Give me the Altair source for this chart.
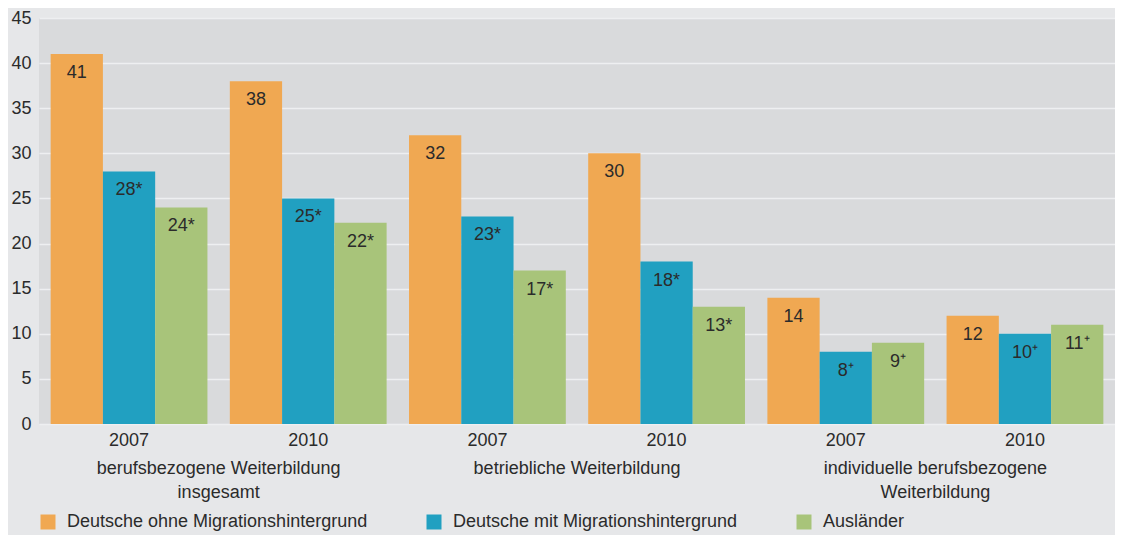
import altair as alt
import pandas as pd

# --- data -------------------------------------------------------------
gruppen = [
    "berufsbezogene Weiterbildung insgesamt",
    "betriebliche Weiterbildung",
    "individuelle berufsbezogene Weiterbildung",
]
gruppen_zeilen = [
    "berufsbezogene Weiterbildung\ninsgesamt",
    "betriebliche Weiterbildung",
    "individuelle berufsbezogene\nWeiterbildung",
]
jahre = ["2007", "2010"]
serien = [
    "Deutsche ohne Migrationshintergrund",
    "Deutsche mit Migrationshintergrund",
    "Ausländer",
]
farben = ["#f0a852", "#21a0c1", "#a8c47a"]

# values per series, in order: (Gruppe1 2007, 2010, Gruppe2 2007, 2010, Gruppe3 2007, 2010)
ohne = [41, 38, 32, 30, 14, 12]
mit = [28, 25, 23, 18, 8, 10]
auslaender = [24, 22.3, 17, 13, 9, 11]

ohne_lab = ["41", "38", "32", "30", "14", "12"]
mit_lab = ["28*", "25*", "23*", "18*", "8⁺", "10⁺"]
ausl_lab = ["24*", "22*", "17*", "13*", "9⁺", "11⁺"]

y_ticks = [0, 5, 10, 15, 20, 25, 30, 35, 40, 45]

# --- build table ------------------------------------------------------
subgruppen = [f"{g}|{j}" for g in gruppen for j in jahre]
rows = []
for s, werte, labs in zip(serien, [ohne, mit, auslaender], [ohne_lab, mit_lab, ausl_lab]):
    for sg, w, l in zip(subgruppen, werte, labs):
        rows.append({"pos": sg, "serie": s, "wert": w, "label": l})
df = pd.DataFrame(rows)

gdf = pd.DataFrame({"pos": [f"{g}|2007" for g in gruppen], "text": gruppen_zeilen})

FONT = "Liberation Sans"
TXT = "#2b2b2b"

W, H = 1076, 406
x_scale = alt.Scale(domain=subgruppen, paddingInner=0.125, paddingOuter=0.065)
step = W / (len(subgruppen) - 0.125 + 2 * 0.065)

x_enc = alt.X(
    "pos:N",
    scale=x_scale,
    sort=subgruppen,
    axis=alt.Axis(
        title=None,
        labelAngle=0,
        ticks=False,
        domain=False,
        labelPadding=7,
        labelFontSize=18,
        labelColor=TXT,
        labelFont=FONT,
        labelExpr="split(datum.label, '|')[1]",
    ),
)
y_scale = alt.Scale(domain=[0, 45], nice=False)

bars = alt.Chart(df).mark_bar().encode(
    x=x_enc,
    xOffset=alt.XOffset("serie:N", sort=serien,
                        scale=alt.Scale(domain=serien, paddingInner=0, paddingOuter=0)),
    y=alt.Y(
        "wert:Q",
        scale=y_scale,
        axis=alt.Axis(
            title=None,
            values=y_ticks,
            ticks=False,
            domain=False,
            labelPadding=8,
            labelFontSize=18,
            labelColor=TXT,
            labelFont=FONT,
            grid=True,
            gridColor="#eeeff1",
            gridWidth=1.5,
        ),
    ),
    color=alt.Color(
        "serie:N",
        sort=serien,
        scale=alt.Scale(domain=serien, range=farben),
        legend=alt.Legend(
            title=None,
            orient="none",
            legendX=0,
            legendY=495,
            direction="horizontal",
            columns=3,
            columnPadding=57,
            symbolType="square",
            symbolSize=225,
            symbolStrokeWidth=0,
            symbolOpacity=1,
            labelFontSize=18,
            labelFont=FONT,
            labelColor=TXT,
            labelOffset=10,
            labelLimit=0,
        ),
    ),
)

labels = alt.Chart(df).mark_text(
    dy=19, baseline="middle", align="center", fontSize=18, font=FONT, color=TXT
).encode(
    x=alt.X("pos:N", scale=x_scale, sort=subgruppen),
    xOffset=alt.XOffset("serie:N", sort=serien),
    y=alt.Y("wert:Q", scale=y_scale),
    text="label:N",
)

gruppen_text = alt.Chart(gdf).mark_text(
    dx=step / 2, baseline="top", align="center", fontSize=18, font=FONT,
    color=TXT, lineBreak="\n", lineHeight=24
).encode(
    x=alt.X("pos:N", scale=x_scale, sort=subgruppen),
    y=alt.value(H + 36),
    text="text:N",
)

chart = (
    alt.layer(bars, labels, gruppen_text)
    .properties(
        width=W,
        height=H,
        autosize="none",
        padding={"left": 31, "top": 10, "right": 0, "bottom": 111},
        background="#e6e7e9",
    )
    .configure_view(fill="#d9dadc", stroke=None)
)

chart.save("out.html", embed_options={"renderer": "svg", "actions": False})
